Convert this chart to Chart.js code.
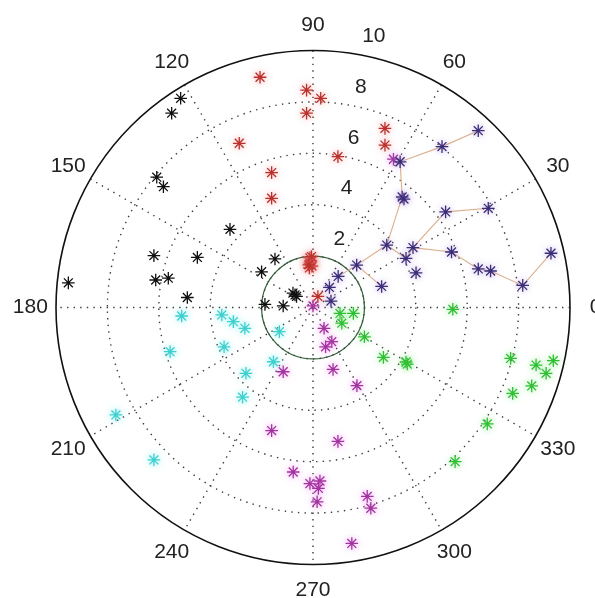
<!DOCTYPE html>
<html>
<head>
<meta charset="utf-8">
<script src="https://cdn.jsdelivr.net/npm/chart.js@4/dist/chart.umd.min.js"></script>
<style>
  html, body { margin: 0; padding: 0; background: #ffffff; }
  canvas { display: block; }
</style>
</head>
<body>
<canvas id="polar" width="595" height="598"></canvas>
<script>
// Polar grid settings (radius units)
const rMax = 10;
const ringRadii = [2, 4, 6, 8];
const radialTickLabels = ['2', '4', '6', '8', '10'];
const angleTicks = [0, 30, 60, 90, 120, 150, 180, 210, 240, 270, 300, 330];
const innerCircleRadius = 2;

// Point groups, [x, y] in radius units
const redPts = [
  [-2.06, 8.96], [-0.25, 8.46], [0.30, 8.14], [-0.25, 7.56], [-2.87, 6.39],
  [2.80, 6.97], [2.80, 6.32], [0.97, 5.87], [-1.61, 5.25], [-1.61, 4.25],
  [-0.12, 1.93], [-0.08, 1.81], [-0.12, 1.73], [-0.04, 1.61], [-0.14, 1.54],
  [-0.06, 1.98], [-0.16, 1.66], [0.19, 0.43]
];
const blackPts = [
  [-5.15, 8.14], [-5.50, 7.56], [-6.08, 5.07], [-5.82, 4.70], [-3.23, 3.04],
  [-6.19, 2.02], [-4.50, 1.95], [-6.12, 1.07], [-5.63, 1.14], [-9.52, 0.96],
  [-1.48, 1.89], [-2.00, 1.39], [-0.70, 0.49], [-0.78, 0.56], [-0.64, 0.43],
  [-1.16, 0.06], [-1.87, 0.12], [-4.89, 0.39]
];
const bluePts = [
  [6.43, 6.88], [5.02, 6.26], [3.39, 5.67], [3.47, 4.30], [3.54, 4.22],
  [5.16, 3.72], [6.82, 3.86], [2.87, 2.43], [3.89, 2.33], [3.62, 1.91],
  [4.01, 1.35], [5.39, 2.16], [6.43, 1.50], [6.91, 1.42], [8.16, 0.86],
  [9.26, 2.11], [2.67, 0.82], [1.70, 1.65], [0.98, 1.21], [0.64, 0.78],
  [0.70, 0.25]
];
const cyanPts = [
  [-5.11, -0.33], [-3.55, -0.29], [-3.10, -0.55], [-2.65, -0.81], [-1.31, -0.94],
  [-5.56, -1.72], [-3.46, -1.53], [-1.54, -2.11], [-2.61, -2.56], [-2.74, -3.49],
  [-7.67, -4.18], [-6.19, -5.93]
];
const magentaPts = [
  [3.13, 5.77], [0.00, 0.06], [0.43, -0.81], [0.73, -1.33], [0.49, -1.53],
  [0.78, -2.41], [-1.16, -2.50], [1.71, -3.04], [-1.61, -4.79], [0.97, -5.21],
  [-0.77, -6.40], [-0.12, -6.85], [0.27, -6.75], [0.21, -7.04], [0.16, -7.56],
  [2.11, -7.35], [2.25, -7.81], [1.51, -9.18]
];
const greenPts = [
  [1.05, -0.23], [1.57, -0.23], [1.12, -0.61], [2.00, -1.14], [2.74, -1.94],
  [3.67, -2.20], [3.62, -2.12], [5.44, -0.07], [7.69, -1.98], [8.68, -2.24],
  [9.35, -2.07], [9.07, -2.56], [8.51, -3.05], [7.77, -3.34], [6.78, -4.53],
  [5.53, -6.00]
];

// Branches joining the blue points (indices into bluePts)
const branchPaths = [
  [18, 17, 7, 3, 2, 1, 0],
  [17, 16],
  [7, 9, 8, 5, 6],
  [8, 11, 12, 13, 14, 15]
];

const toXY = pts => pts.map(p => ({ x: p[0], y: p[1] }));

function starSet(pts, color, glow) {
  return {
    data: toXY(pts),
    pointStyle: 'star',
    pointRadius: 6.3,
    pointHoverRadius: 6.3,
    borderWidth: 1.3,
    borderColor: color,
    backgroundColor: color,
    glow: glow,
    showLine: false,
    order: 1
  };
}

const branchSets = branchPaths.map(path => ({
  data: path.map(i => ({ x: bluePts[i][0], y: bluePts[i][1] })),
  showLine: true,
  borderColor: '#dbb08a',
  borderWidth: 1.1,
  pointRadius: 0,
  pointHoverRadius: 0,
  order: 5
}));

const polarGrid = {
  id: 'polarGrid',
  beforeDatasetsDraw(chart) {
    const { ctx, scales } = chart;
    const sx = scales.x, sy = scales.y;
    const cx = sx.getPixelForValue(0), cy = sy.getPixelForValue(0);
    const unit = sx.getPixelForValue(1) - cx;
    const R = rMax * unit;
    ctx.save();
    // dotted rings
    ctx.strokeStyle = '#3a3a3a';
    ctx.lineWidth = 1.4;
    ctx.setLineDash([1.4, 5.2]);
    ringRadii.forEach(r => {
      ctx.beginPath();
      ctx.arc(cx, cy, r * unit, 0, Math.PI * 2);
      ctx.stroke();
    });
    // dotted spokes
    for (let a = 0; a < 180; a += 30) {
      const t = a * Math.PI / 180;
      ctx.beginPath();
      ctx.moveTo(sx.getPixelForValue(rMax * Math.cos(t)), sy.getPixelForValue(rMax * Math.sin(t)));
      ctx.lineTo(sx.getPixelForValue(-rMax * Math.cos(t)), sy.getPixelForValue(-rMax * Math.sin(t)));
      ctx.stroke();
    }
    ctx.setLineDash([]);
    // outer boundary
    ctx.strokeStyle = '#111';
    ctx.lineWidth = 1.6;
    ctx.beginPath();
    ctx.arc(cx, cy, R, 0, Math.PI * 2);
    ctx.stroke();
    // inner reference circle
    ctx.strokeStyle = '#2f5a35';
    ctx.lineWidth = 1.2;
    ctx.beginPath();
    ctx.arc(cx, cy, innerCircleRadius * unit, 0, Math.PI * 2);
    ctx.stroke();
    // angle labels
    ctx.fillStyle = '#222';
    ctx.font = '21px "Liberation Sans", Arial, sans-serif';
    ctx.textAlign = 'center';
    ctx.textBaseline = 'middle';
    angleTicks.forEach(a => {
      const t = a * Math.PI / 180;
      const r = rMax * 1.1;
      ctx.fillText(String(a), sx.getPixelForValue(r * Math.cos(t)), sy.getPixelForValue(r * Math.sin(t)));
    });
    // radial labels along 82 degrees
    ctx.textAlign = 'left';
    const t82 = 82 * Math.PI / 180;
    radialTickLabels.forEach(lbl => {
      const r = Number(lbl) + 0.1;
      const px = sx.getPixelForValue(r * Math.cos(t82));
      const py = sy.getPixelForValue(r * Math.sin(t82));
      ctx.fillText(lbl, px + 13, py - 14.5);
    });
    ctx.restore();
  },
  beforeDatasetDraw(chart, args) {
    const ds = chart.data.datasets[args.index];
    chart.ctx.save();
    if (ds.glow) {
      chart.ctx.shadowColor = ds.glow;
      chart.ctx.shadowBlur = 7;
    }
  },
  afterDatasetDraw(chart) {
    chart.ctx.restore();
  }
};

new Chart(document.getElementById('polar'), {
  type: 'scatter',
  data: {
    datasets: [
      starSet(redPts, '#bb302a', 'rgba(240,120,120,0.7)'),
      starSet(blackPts, '#101010', null),
      starSet(bluePts, '#3a2e78', 'rgba(170,130,220,0.7)'),
      starSet(cyanPts, '#3fcfcf', 'rgba(110,235,235,0.9)'),
      starSet(magentaPts, '#a3339f', 'rgba(235,120,235,0.8)'),
      starSet(greenPts, '#2fbf32', 'rgba(120,230,120,0.8)'),
      ...branchSets
    ]
  },
  options: {
    responsive: false,
    animation: false,
    devicePixelRatio: 1,
    layout: { padding: { left: 56, right: 25, top: 50.5, bottom: 33.5 } },
    plugins: { legend: { display: false }, tooltip: { enabled: false } },
    events: [],
    scales: {
      x: { type: 'linear', min: -rMax, max: rMax, display: false },
      y: { type: 'linear', min: -rMax, max: rMax, display: false }
    }
  },
  plugins: [polarGrid]
});
</script>
</body>
</html>
